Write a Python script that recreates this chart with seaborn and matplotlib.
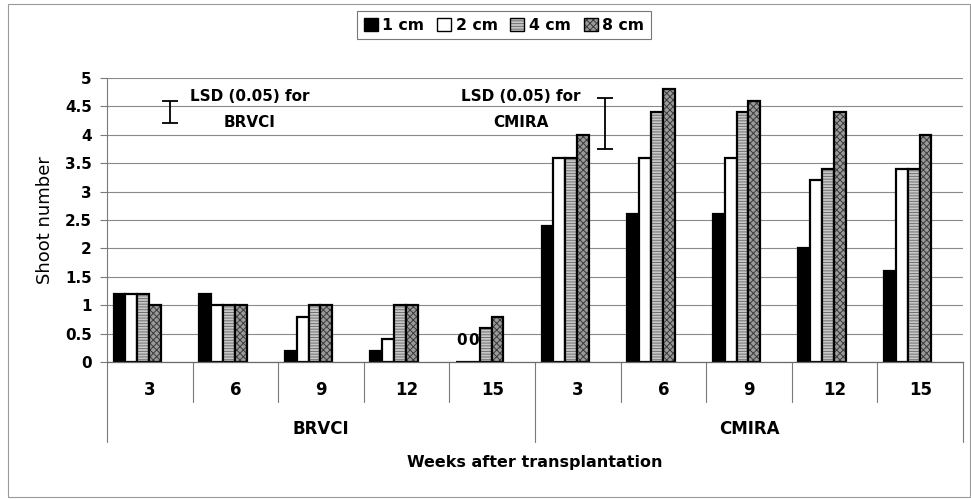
import numpy as np
import pandas as pd
import matplotlib
matplotlib.use("Agg")
import matplotlib.pyplot as plt
import matplotlib.colors as mcolors
import matplotlib.transforms as mtransforms
from matplotlib.patches import Rectangle
import seaborn as sns

# ---- data -------------------------------------------------------------
varieties = ["BRVCI", "CMIRA"]
weeks = [3, 6, 9, 12, 15]
cutting_lengths = ["1 cm", "2 cm", "4 cm", "8 cm"]

brvci_1cm = [1.2, 1.2, 0.2, 0.2, 0.0]
brvci_2cm = [1.2, 1.0, 0.8, 0.4, 0.0]
brvci_4cm = [1.2, 1.0, 1.0, 1.0, 0.6]
brvci_8cm = [1.0, 1.0, 1.0, 1.0, 0.8]

cmira_1cm = [2.4, 2.6, 2.6, 2.0, 1.6]
cmira_2cm = [3.6, 3.6, 3.6, 3.2, 3.4]
cmira_4cm = [3.6, 4.4, 4.4, 3.4, 3.4]
cmira_8cm = [4.0, 4.8, 4.6, 4.4, 4.0]

# LSD (0.05) bar for each variety: full length and mid point
lsd_values = [0.4, 0.9]
lsd_centres = [4.4, 4.2]

series = {
    "BRVCI": [brvci_1cm, brvci_2cm, brvci_4cm, brvci_8cm],
    "CMIRA": [cmira_1cm, cmira_2cm, cmira_4cm, cmira_8cm],
}

rows = []
for v in varieties:
    for length, vals in zip(cutting_lengths, series[v]):
        for w, val in zip(weeks, vals):
            rows.append({"key": f"{v}|{w}", "variety": v, "week": w,
                         "length": length, "shoots": val})
df = pd.DataFrame(rows)
order = [f"{v}|{w}" for v in varieties for w in weeks]

# ---- styling ----------------------------------------------------------
sns.set_style("white")
plt.rcParams["font.family"] = ["DejaVu Sans"]
plt.rcParams["hatch.linewidth"] = 0.7
for key in ["text.color", "axes.labelcolor", "xtick.color", "ytick.color"]:
    plt.rcParams[key] = "black"

faces = {"1 cm": "#000000", "2 cm": "#ffffff", "4 cm": "#c8c8c8", "8 cm": "#9a9a9a"}
hatches = {"1 cm": None, "2 cm": None, "4 cm": "------", "8 cm": "xxxxx"}
hatch_cols = {"4 cm": "#707070", "8 cm": "#3a3a3a"}

W, H = 971, 499
fig = plt.figure(figsize=(W / 100, H / 100), dpi=100)
ax_left, ax_bottom, ax_w, ax_h = 107, 362, 856, 284
ax = fig.add_axes([ax_left / W, 1 - ax_bottom / H, ax_w / W, ax_h / H])

sns.barplot(data=df, x="key", y="shoots", hue="length", order=order,
            hue_order=cutting_lengths, palette=faces, width=0.555, gap=0,
            errorbar=None, edgecolor="black", linewidth=1.6, saturation=1,
            legend=False, ax=ax)
bar_containers = list(ax.containers)

for length, cont in zip(cutting_lengths, bar_containers):
    for bar in cont.patches:
        if hatches[length]:
            bar.set_hatch(hatches[length])
            bar._hatch_color = mcolors.to_rgba(hatch_cols[length])

# bars sit a little left of the middle of each category cell
offset = 0.146
ax.set_xlim(-0.5 + offset, len(order) - 0.5 + offset)
ax.set_ylim(0, 5)

yticks = np.arange(0, 5.01, 0.5)
ax.set_yticks(yticks)
ax.set_yticklabels([f"{t:g}" for t in yticks], fontweight="bold", fontsize=11)
ax.tick_params(axis="y", direction="out", length=5, width=0.8,
               color="#7a7a7a", labelcolor="black", pad=6, left=True)
ax.set_xticks([])
ax.yaxis.grid(True, color="#8a8a8a", lw=0.8)
ax.set_axisbelow(True)
for s in ["top", "right"]:
    ax.spines[s].set_visible(False)
ax.spines["left"].set_color("#7a7a7a")
ax.spines["left"].set_linewidth(0.8)
ax.spines["bottom"].set_color("#6a6a6a")
ax.spines["bottom"].set_linewidth(0.9)

# ---- two-level category axis -------------------------------------------
trans = mtransforms.blended_transform_factory(ax.transData, ax.transAxes)
inner = -40 / ax_h
outer = -80 / ax_h
n = len(order)
for i in range(n + 1):
    xb = i - 0.5 + offset
    y_end = outer if i % len(weeks) == 0 else inner
    ax.plot([xb, xb], [0, y_end], transform=trans, color="#7a7a7a",
            lw=0.8, clip_on=False)

for i, key in enumerate(order):
    wk = key.split("|")[1]
    ax.text(i + offset, -28 / ax_h, wk, transform=trans, ha="center",
            va="center", fontsize=12, fontweight="bold", color="black")

for g, v in enumerate(varieties):
    xc = g * len(weeks) + (len(weeks) - 1) / 2 + offset
    ax.text(xc, -67 / ax_h, v, transform=trans, ha="center", va="center",
            fontsize=12, fontweight="bold", color="black")

ax.set_xlabel("Weeks after transplantation", fontsize=11.5,
              fontweight="bold", va="center", color="black")
ax.xaxis.set_label_coords(0.5, -101 / ax_h)
ax.set_ylabel("Shoot number", fontsize=13, va="center", color="black")
ax.yaxis.set_label_coords(-62 / ax_w, 0.5)

# zero-height bars carry a "0" label
for cont in bar_containers:
    for bar in cont.patches:
        if bar.get_height() == 0:
            xc = bar.get_x() + bar.get_width() / 2
            ax.annotate("0", (xc, 0), xytext=(0, 15.8),
                        textcoords="offset points", ha="center", va="center",
                        fontsize=11, fontweight="bold", color="black")

# ---- LSD bars ----------------------------------------------------------
lsd_x = [0.382, 5.464]
text_x = [1.317, 4.483]
ax.errorbar(lsd_x, lsd_centres, yerr=np.array(lsd_values) / 2, fmt="none",
            ecolor="black", elinewidth=1.3, capsize=5.5, capthick=1.3)
for tx, v in zip(text_x, varieties):
    ax.text(tx, 4.67, "LSD (0.05) for", ha="center", va="center",
            fontsize=11, fontweight="bold", color="black")
    ax.text(tx, 4.21, v, ha="center", va="center", fontsize=11,
            fontweight="bold", color="black")

# ---- legend ------------------------------------------------------------
handles = [cont.patches[0] for cont in bar_containers]
leg = fig.legend(handles, cutting_lengths, ncol=4, loc="center",
                 bbox_to_anchor=(504 / W, 1 - 25 / H), frameon=True,
                 fancybox=False, edgecolor="#555555", handlelength=0.9,
                 handleheight=0.9, handletextpad=0.3, columnspacing=0.8,
                 borderpad=0.4, prop={"weight": "bold", "size": 11.3})
leg.get_frame().set_linewidth(0.8)
for h in leg.legend_handles:
    h.set_linewidth(1.0)
for t in leg.get_texts():
    t.set_color("black")

# ---- outer chart frame -------------------------------------------------
fig.patches.append(Rectangle((8 / W, 2 / H), (970 - 8) / W, (495 - 2) / H,
                             transform=fig.transFigure, fill=False,
                             edgecolor="#9a9a9a", lw=0.8))

fig.savefig("out.png", dpi=100)
